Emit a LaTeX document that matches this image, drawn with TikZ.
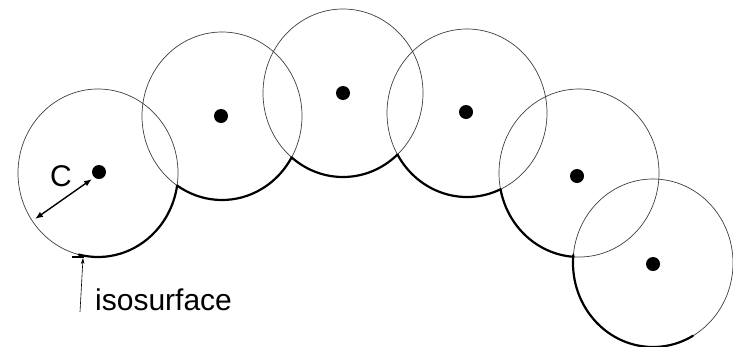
\documentclass[tikz,border=0pt]{standalone}
\usepackage{fontspec}
\setmainfont{Liberation Sans}
\usetikzlibrary{arrows.meta,shapes.geometric}
\begin{document}
\begin{tikzpicture}[x=1pt,y=-1pt,
  ring/.style={draw=black!75,line width=0.7pt,ellipse,minimum width=160pt,minimum height=168pt,inner sep=0pt},
  dot/.style={fill=black,circle,minimum size=14pt,inner sep=0pt},
  iso/.style={line width=2.2pt,line cap=round,line join=round},
  lbl/.style={font=\fontsize{30}{30}\selectfont,inner sep=0pt}]
\fill[white] (0,0) rectangle (733,346);
\useasboundingbox (0,0) rectangle (733,346);
% circles
\node[ring] (c1) at (98,173) {};
\node[ring] (c2) at (222,116) {};
\node[ring] (c3) at (343,93) {};
\node[ring] (c4) at (467,113) {};
\node[ring] (c5) at (579,173) {};
\node[ring] (c6) at (653,263) {};
% centres
\node[dot] (d1) at (99,172) {};
\node[dot] (d2) at (221,116) {};
\node[dot] (d3) at (343,93) {};
\node[dot] (d4) at (466,112) {};
\node[dot] (d5) at (577,176) {};
\node[dot] (d6) at (653,264) {};
% isosurface arcs
\draw[iso] ([shift={(256:80pt and 84pt)}]c1.center) arc[start angle=256,end angle=351.4,x radius=80pt,y radius=84pt];
\draw[iso] ([shift={(235.9:80pt and 84pt)}]c2.center) arc[start angle=235.9,end angle=330.5,x radius=80pt,y radius=84pt];
\draw[iso] ([shift={(230:80pt and 84pt)}]c3.center) arc[start angle=230,end angle=312.9,x radius=80pt,y radius=84pt];
\draw[iso] ([shift={(209.7:80pt and 84pt)}]c4.center) arc[start angle=209.7,end angle=294.8,x radius=80pt,y radius=84pt];
\draw[iso] ([shift={(191.1:80pt and 84pt)}]c5.center) arc[start angle=191.1,end angle=266,x radius=80pt,y radius=84pt];
\draw[iso] ([shift={(174.4:80pt and 84pt)}]c6.center) arc[start angle=174.4,end angle=300,x radius=80pt,y radius=84pt];
\coordinate (t1) at (72,257);
\coordinate (t2) at (84,257);
\draw[line width=2pt] (t1) -- (t2);
% radius arrow
\coordinate (ra) at (92,179);
\coordinate (rb) at (35,219);
\draw[line width=1.4pt,{Latex[length=8pt,width=6pt]}-{Latex[length=8pt,width=6pt]}] (rb) -- (ra);
\node[lbl] (lc) at (61,176) {C};
% isosurface label
\coordinate (ia) at (80,312);
\coordinate (ib) at (83,258);
\draw[line width=0.6pt,-{Stealth[length=6pt,width=3.5pt]}] (ia) -- (ib);
\node[lbl,anchor=base west] (li) at (95,310) {isosurface};
\end{tikzpicture}
\end{document}
